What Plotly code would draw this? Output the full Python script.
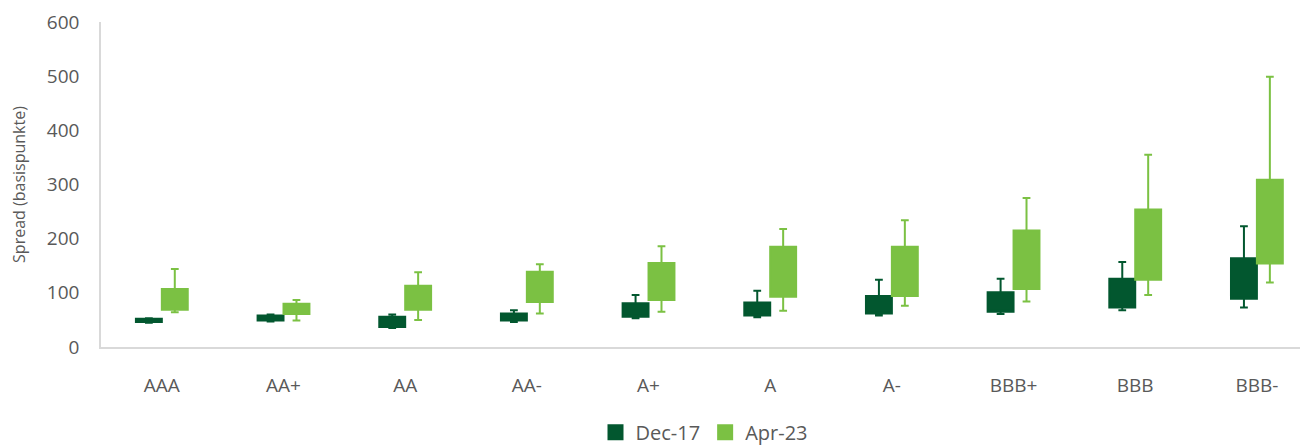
import plotly.graph_objects as go

categories = ["AAA", "AA+", "AA", "AA-", "A+", "A", "A-", "BBB+", "BBB", "BBB-"]

dec17_min = [45, 47, 35, 46, 53, 55, 58, 61, 68, 73]
dec17_q1 = [46, 49, 37, 49, 56, 58, 62, 65, 73, 89]
dec17_q3 = [52, 58, 56, 62, 81, 82, 94, 101, 126, 164]
dec17_max = [53, 60, 60, 68, 96, 104, 124, 126, 157, 223]

apr23_min = [64, 49, 50, 62, 65, 67, 76, 84, 96, 119]
apr23_q1 = [69, 61, 69, 83, 87, 93, 94, 107, 124, 154]
apr23_q3 = [107, 80, 113, 139, 155, 185, 185, 215, 254, 309]
apr23_max = [144, 87, 138, 153, 186, 218, 234, 275, 355, 499]

DARK = "#02572F"
LIGHT = "#7BC143"
GREY = "#595959"

fig = go.Figure()

for name, color, mn, q1, q3, mx in [
    ("Dec-17", DARK, dec17_min, dec17_q1, dec17_q3, dec17_max),
    ("Apr-23", LIGHT, apr23_min, apr23_q1, apr23_q3, apr23_max),
]:
    fig.add_trace(go.Box(
        name=name,
        x=categories,
        q1=q1, median=q1, q3=q3,
        lowerfence=mn, upperfence=mx,
        fillcolor=color,
        line=dict(color=color, width=2),
        whiskerwidth=0.3,
        showlegend=False,
        hoverinfo="skip",
    ))
    fig.add_trace(go.Scatter(
        name=name, x=[None], y=[None], mode="markers",
        marker=dict(symbol="square", size=22, color=color),
        showlegend=True,
    ))

fig.update_layout(
    width=1300, height=440,
    margin=dict(l=93, r=0, t=14, b=101, autoexpand=False),
    paper_bgcolor="white", plot_bgcolor="white",
    boxmode="group", boxgap=0.574, boxgroupgap=0,
    font=dict(family="Open Sans", color=GREY, size=19),
    legend=dict(orientation="h", x=0.5, xanchor="center", y=-0.262, yanchor="middle",
                font=dict(size=20, color=GREY), itemwidth=30, traceorder="normal"),
    xaxis=dict(
        type="category", range=[-0.5, 9.42],
        showline=True, linecolor="#D9D9D9", linewidth=1.5,
        showgrid=False, ticks="", ticklabelstandoff=20,
        tickfont=dict(size=19, color=GREY),
    ),
    yaxis=dict(
        range=[0, 600], dtick=100,
        showline=True, linecolor="#D9D9D9", linewidth=1.5,
        showgrid=False, zeroline=False, ticks="", ticklabelstandoff=16,
        tickfont=dict(size=19, color=GREY),
        title=dict(text="Spread (basispunkte)", font=dict(size=16, color=GREY), standoff=22),
    ),
)

fig.write_html("out.html")
